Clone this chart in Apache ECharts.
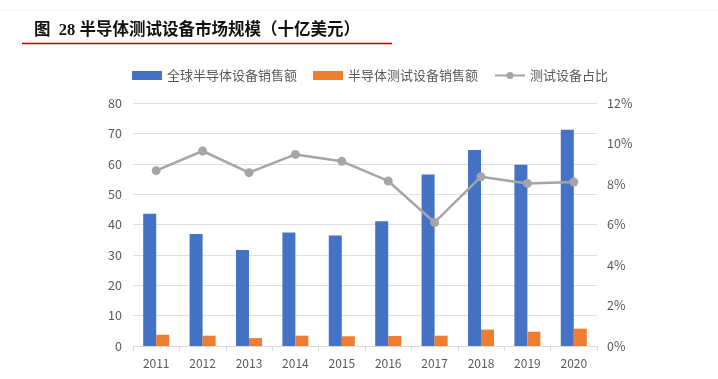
<!DOCTYPE html>
<html><head><meta charset="utf-8">
<script src="https://cdn.jsdelivr.net/npm/echarts@6/dist/echarts.min.js"></script>
<style>html,body{margin:0;padding:0;background:#fff}#c{width:718px;height:379px}</style>
</head><body><div id="c"></div>
<script>
var years = ['2011','2012','2013','2014','2015','2016','2017','2018','2019','2020'];
var globalSales = [43.5, 36.9, 31.6, 37.4, 36.4, 41.1, 56.5, 64.5, 59.7, 71.2];
var testSales = [3.7, 3.4, 2.6, 3.4, 3.2, 3.3, 3.4, 5.4, 4.7, 5.7];
var testShare = [8.66, 9.63, 8.56, 9.46, 9.12, 8.15, 6.1, 8.36, 8.03, 8.1];
var leftTicks = {min: 0, max: 80, interval: 10};
var rightTicks = {min: 0, max: 12, interval: 2};

var chart = echarts.init(document.getElementById('c'));
var font = '"Noto Sans CJK SC", sans-serif';
chart.setOption({
  animation: false,
  textStyle: {fontFamily: font},
  graphic: [
    {type: 'line', shape: {x1: 0, y1: 10, x2: 718, y2: 10}, style: {stroke: '#eef2fa', lineWidth: 1}},
    {type: 'text', left: 34, top: 22, style: {text: '图  28 半导体测试设备市场规模（十亿美元）', font: 'bold 16.5px "Liberation Serif", "Noto Sans CJK SC", serif', fill: '#111'}},
    {type: 'line', shape: {x1: 22, y1: 43.5, x2: 392, y2: 43.5}, style: {stroke: '#c00000', lineWidth: 1.5}}
  ],
  legend: {
    top: 64, left: 127, itemGap: 16, itemWidth: 30, itemHeight: 9,
    textStyle: {color: '#595959', fontSize: 13, fontFamily: font},
    data: [
      {name: '全球半导体设备销售额', icon: 'rect'},
      {name: '半导体测试设备销售额', icon: 'rect'},
      {name: '测试设备占比'}
    ]
  },
  grid: {left: 133, right: 121, top: 103, bottom: 33},
  xAxis: {
    type: 'category', data: years,
    axisLine: {lineStyle: {color: '#d9d9d9'}},
    axisTick: {show: true, lineStyle: {color: '#d9d9d9'}, length: 5},
    axisLabel: {color: '#595959', fontSize: 12, margin: 11}
  },
  yAxis: [
    {type: 'value', min: leftTicks.min, max: leftTicks.max, interval: leftTicks.interval,
     axisLabel: {color: '#595959', fontSize: 12.5, margin: 11},
     splitLine: {lineStyle: {color: '#e0e0e0'}}, axisLine: {show: false}, axisTick: {show: false}},
    {type: 'value', min: rightTicks.min, max: rightTicks.max, interval: rightTicks.interval,
     axisLabel: {color: '#595959', fontSize: 12.5, margin: 10, formatter: '{value}%'},
     splitLine: {show: false}, axisLine: {show: false}, axisTick: {show: false}}
  ],
  series: [
    {name: '全球半导体设备销售额', type: 'bar', data: globalSales, barWidth: 13, barGap: '0%',
     itemStyle: {color: '#4472c4'}},
    {name: '半导体测试设备销售额', type: 'bar', data: testSales, barWidth: 13,
     itemStyle: {color: '#ed7d31'}},
    {name: '测试设备占比', type: 'line', yAxisIndex: 1, data: testShare,
     symbol: 'circle', symbolSize: 9,
     lineStyle: {color: '#a5a5a5', width: 2.5}, itemStyle: {color: '#a5a5a5'}}
  ]
});
</script></body></html>
